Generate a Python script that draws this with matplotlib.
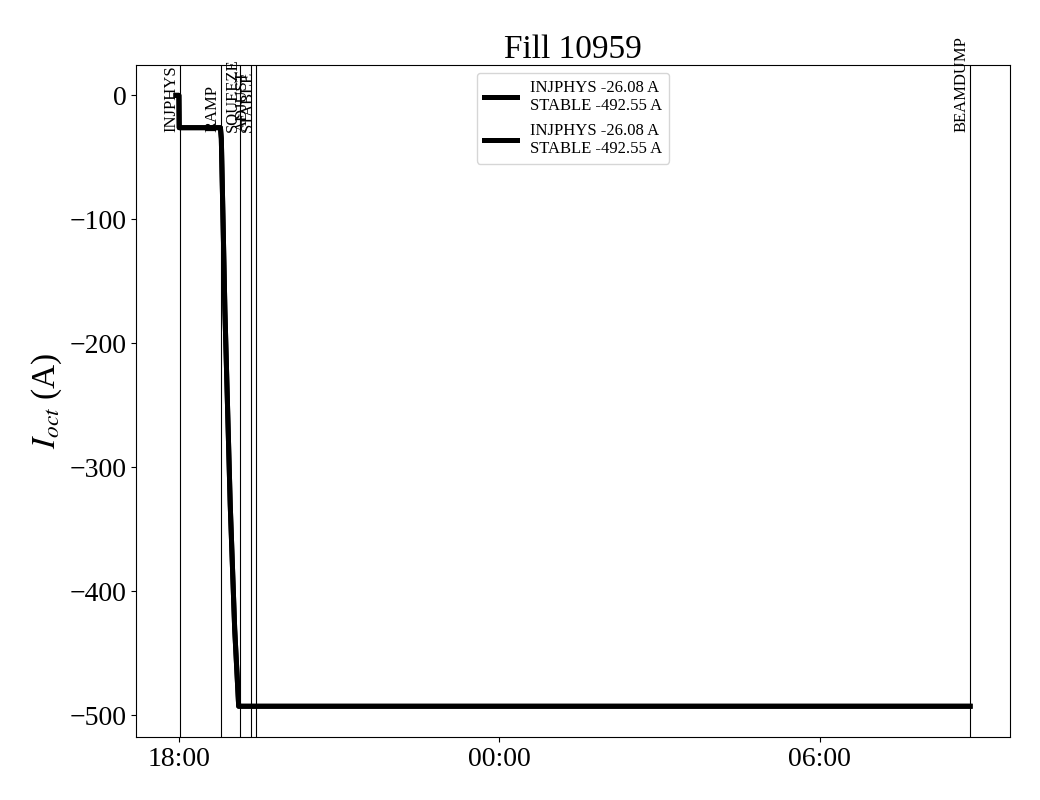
import matplotlib
matplotlib.use("Agg")
import matplotlib.pyplot as plt
import matplotlib.dates as mdates
import pandas as pd

plt.rcParams["font.family"] = ["Liberation Serif", "DejaVu Serif"]
plt.rcParams["mathtext.fontset"] = "stix"

# octupole current over the fill
times = ["2025-08-20 17:56:30", "2025-08-20 17:59:50", "2025-08-20 18:00:10",
         "2025-08-20 18:46:30", "2025-08-20 18:47:30", "2025-08-20 18:51:30",
         "2025-08-20 18:57:30", "2025-08-20 19:02:30", "2025-08-20 19:07:00",
         "2025-08-21 08:49:00"]
current = [0.0, 0.0, -26.08,
           -26.08, -35.0, -173.0,
           -330.0, -430.0, -492.55,
           -492.55]

# beam modes
modes = ["INJPHYS", "RAMP", "SQUEEZE", "ADJUST", "STABLE", "BEAMDUMP"]
mode_times = ["2025-08-20 18:00:30", "2025-08-20 18:47:00", "2025-08-20 19:08:30",
              "2025-08-20 19:21:00", "2025-08-20 19:26:30", "2025-08-21 08:48:30"]

label = "INJPHYS -26.08 A\nSTABLE -492.55 A"

t = pd.to_datetime(times, format="%Y-%m-%d %H:%M:%S")
fig, ax = plt.subplots(figsize=(10.4, 8), dpi=100)
ax.plot(t, current, color="black", lw=3.6, label=label)
ax.plot(t, current, color="black", lw=3.6, label=label)

for m, mt in zip(modes, pd.to_datetime(mode_times, format="%Y-%m-%d %H:%M:%S")):
    ax.axvline(mt, color="black", lw=0.8)
    ax.text(mt, 0.9, m, transform=ax.get_xaxis_transform(), rotation=90,
            ha="right", va="bottom", fontsize=12)

ax.xaxis.set_major_locator(mdates.HourLocator(byhour=[0, 6, 18]))
ax.xaxis.set_major_formatter(mdates.DateFormatter("%H:%M"))
ax.tick_params(labelsize=20)
ax.set_ylabel(r"$I_{oct}$ (A)", fontsize=24)
ax.set_title("Fill 10959", fontsize=24, pad=4)
ax.legend(loc="upper center", fontsize=12)

fig.subplots_adjust(left=0.131, right=0.971, top=0.919, bottom=0.079)
fig.savefig("out.png")
